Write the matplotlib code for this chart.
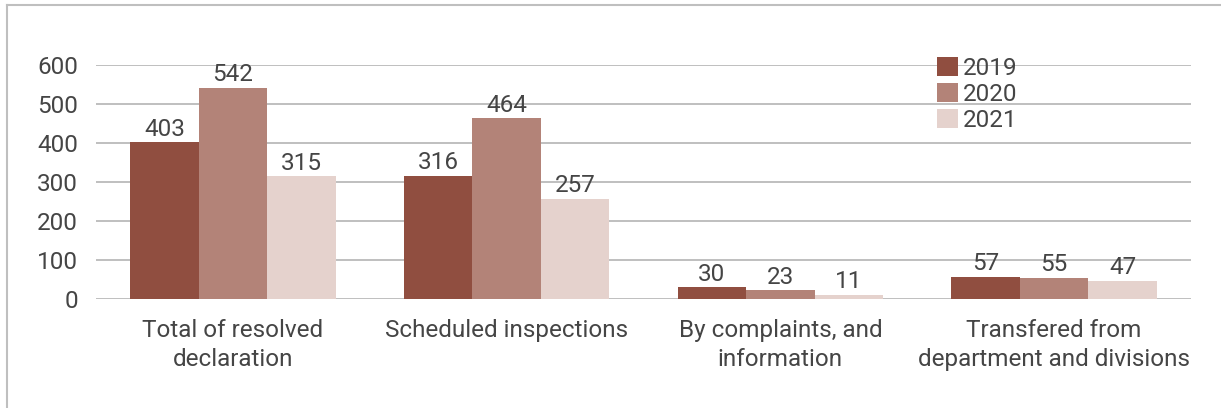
import matplotlib
matplotlib.use("Agg")
import matplotlib.pyplot as plt
from matplotlib.lines import Line2D
import numpy as np

categories = ["Total of resolved\ndeclaration", "Scheduled inspections",
              "By complaints, and\ninformation", "Transfered from\ndepartment and divisions"]
years = ["2019", "2020", "2021"]
values_2019 = [403, 316, 30, 57]
values_2020 = [542, 464, 23, 55]
values_2021 = [315, 257, 11, 47]
series = [values_2019, values_2020, values_2021]
colors = ["#904E40", "#B38378", "#E5D2CD"]
yticks = [0, 100, 200, 300, 400, 500, 600]

plt.rcParams['font.family'] = ['Roboto', 'DejaVu Sans']
txt = "#454545"
fs = 17.5
fw = "normal"

fig = plt.figure(figsize=(12.21, 4.08), dpi=100)
ax = fig.add_axes([0.0786, 0.267, 0.8968, 0.5734])

x = np.arange(len(categories))
w = 0.25
for i, (vals, c, yr) in enumerate(zip(series, colors, years)):
    bars = ax.bar(x + (i - 1) * w, vals, width=w, color=c, label=yr, zorder=2)
    for b, v in zip(bars, vals):
        ax.annotate(str(v), (b.get_x() + b.get_width() / 2, v), xytext=(0, 1),
                    textcoords="offset points", ha="center", va="bottom",
                    fontsize=fs, color=txt, fontweight=fw, zorder=3)

ax.set_xlim(-0.5, len(categories) - 0.5)
ax.set_ylim(0, 600)
ax.set_yticks(yticks)
ax.set_yticklabels([str(t) for t in yticks], fontsize=fs, color=txt, fontweight=fw)
ax.set_xticks(x)
ax.set_xticklabels(categories, fontsize=fs, color=txt, fontweight=fw, linespacing=1.3)
ax.tick_params(axis="both", length=0)
ax.tick_params(axis="y", pad=13)
ax.tick_params(axis="x", pad=14.5)
ax.yaxis.grid(True, color="#BFBFBF", linewidth=1.4, zorder=1)
ax.set_axisbelow(True)
for s in ax.spines.values():
    s.set_visible(False)

leg = ax.legend(loc="upper left", bbox_to_anchor=(937 / 1221, 1 - 57 / 408),
                bbox_transform=fig.transFigure, frameon=False, fontsize=fs,
                handlelength=0.85, handleheight=0.85, handletextpad=0.2,
                labelspacing=0.12, borderpad=0, borderaxespad=0)
for t in leg.get_texts():
    t.set_color(txt)
    t.set_fontweight(fw)
leg.set_zorder(0.5)

fig.add_artist(Line2D([7 / 1221, 7 / 1221], [0, 1 - 5 / 408], transform=fig.transFigure,
                      color="#BFBFBF", linewidth=1.5))
fig.add_artist(Line2D([7 / 1221, 1], [1 - 5 / 408, 1 - 5 / 408], transform=fig.transFigure,
                      color="#BFBFBF", linewidth=1.5))

fig.savefig("out.png", dpi=100)
